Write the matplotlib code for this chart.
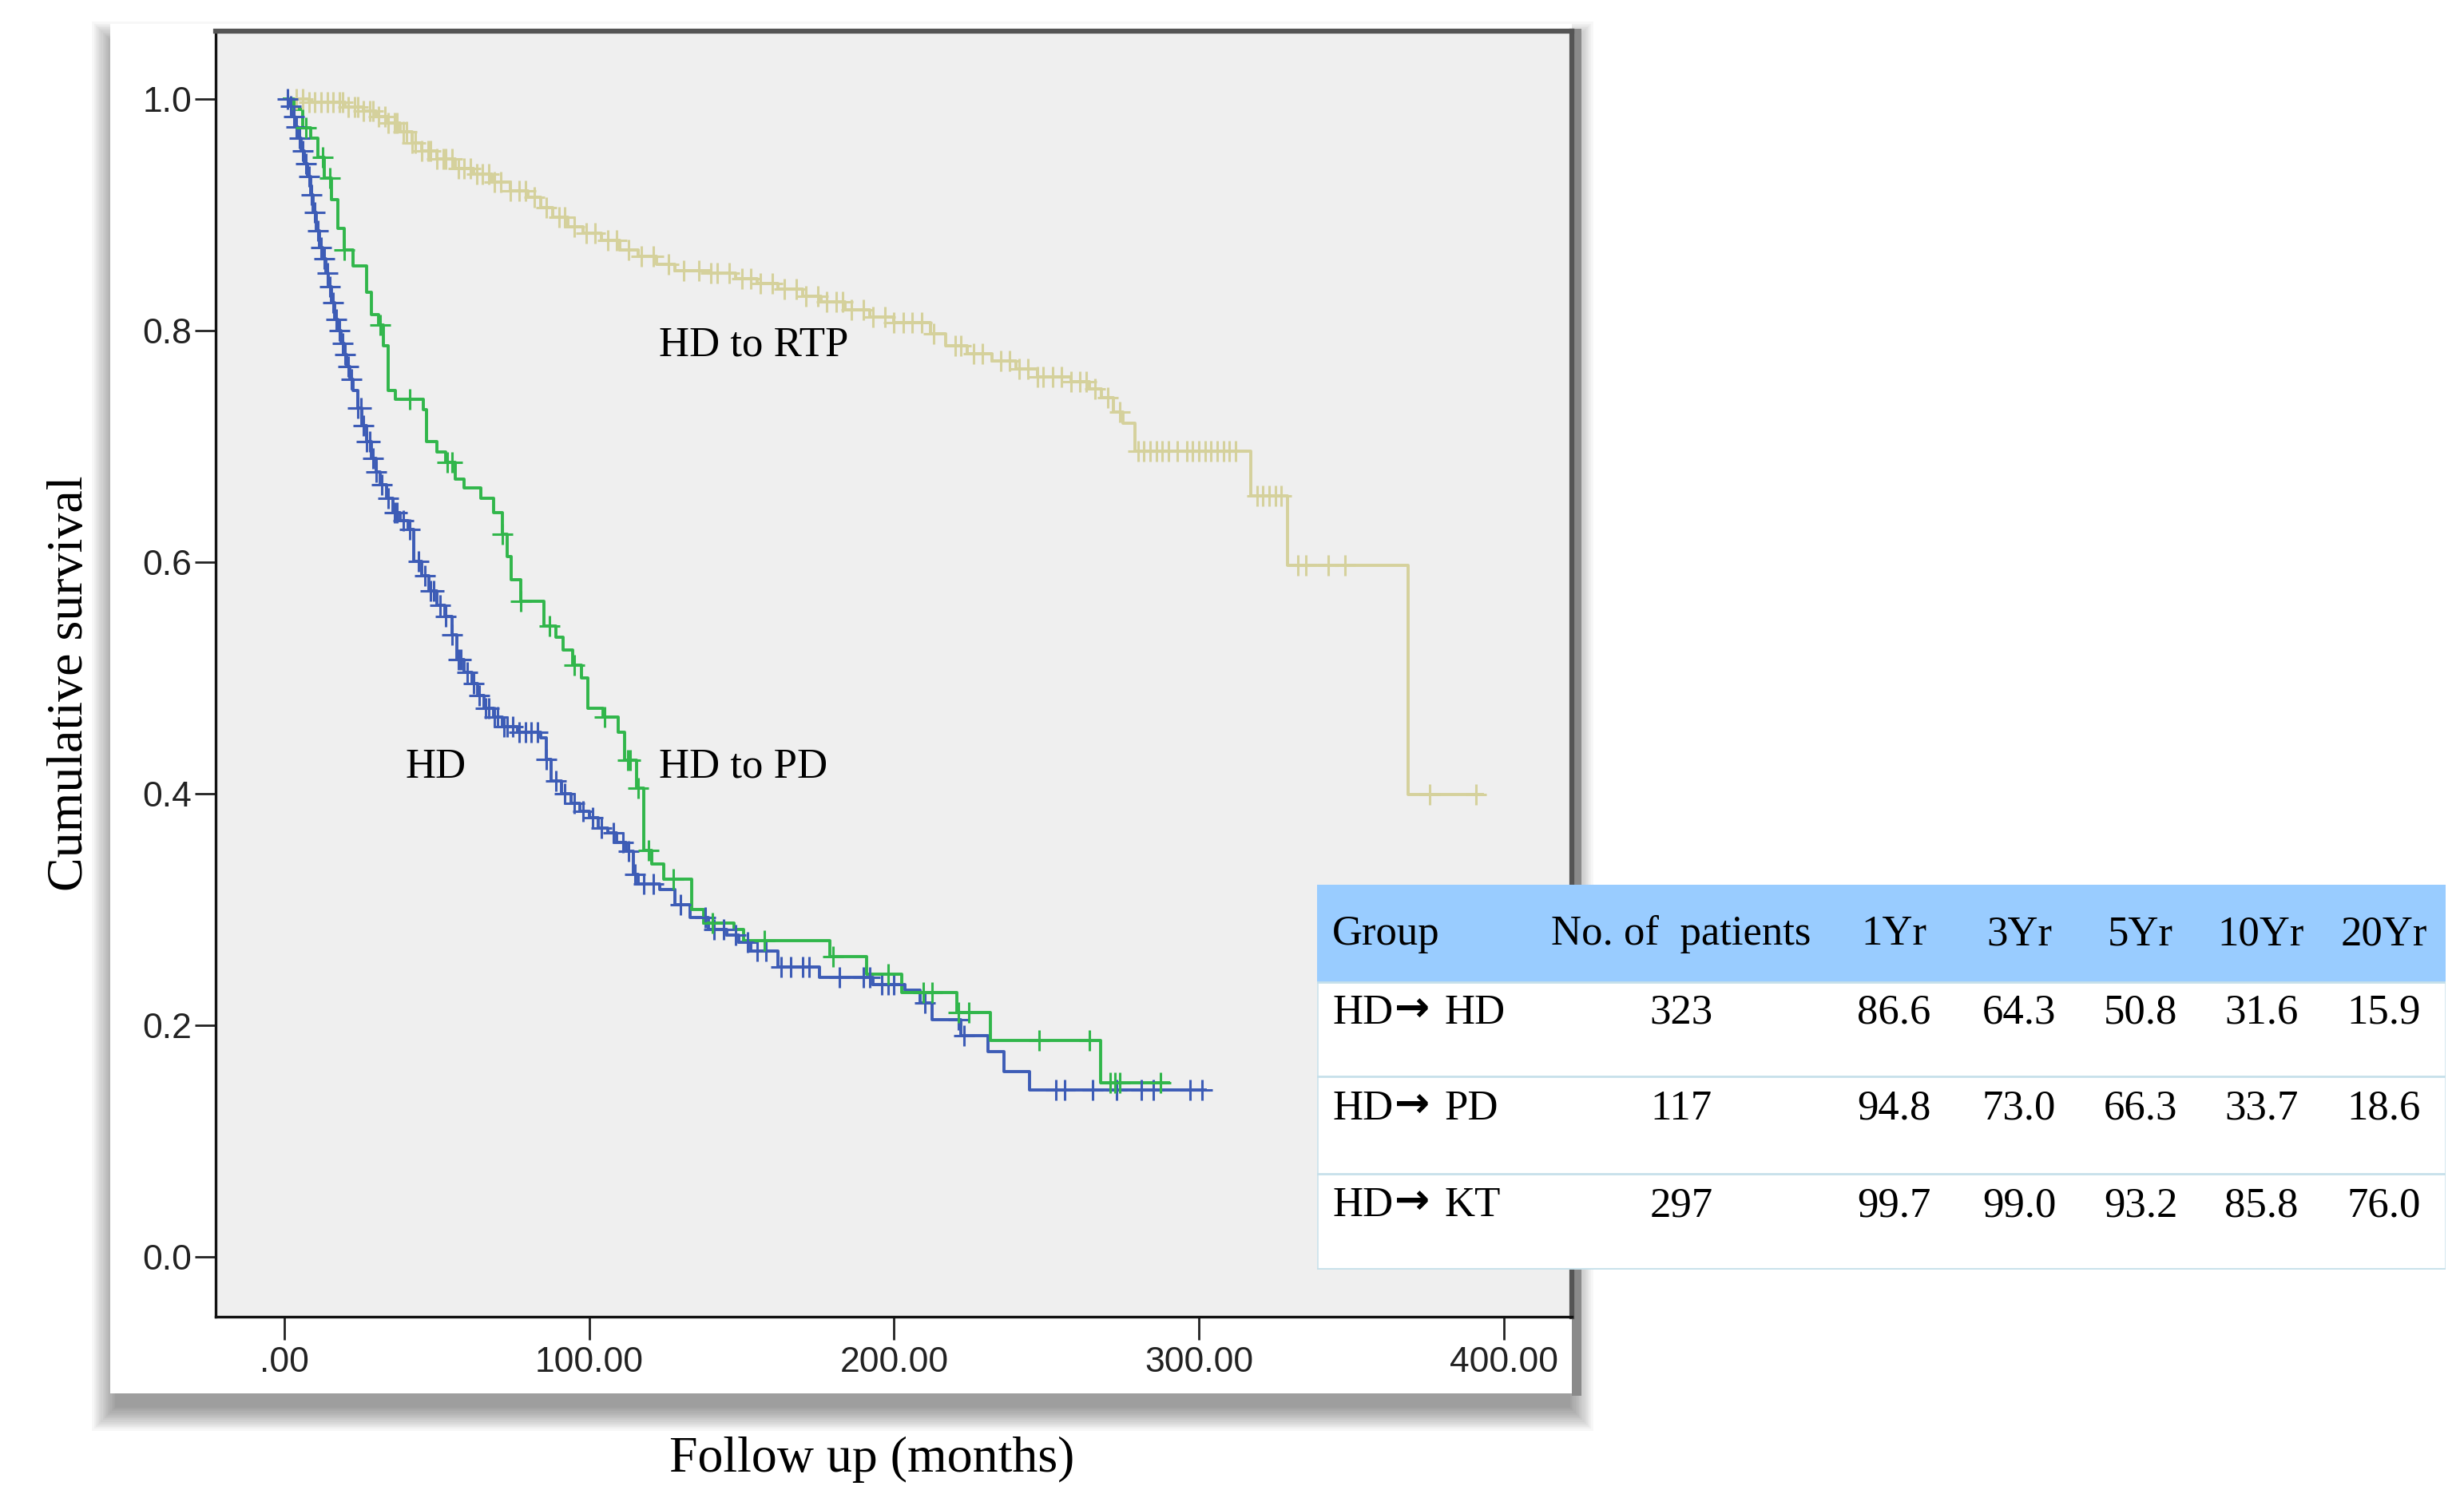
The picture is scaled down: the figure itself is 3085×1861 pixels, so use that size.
import numpy as np
import matplotlib.pyplot as plt
from matplotlib.patches import Rectangle

# ---- values ----
# Kaplan-Meier steps: time (months) where each step starts, survival after the step
hd_time = [0, 1.5, 2.5, 3.5, 4.5, 5.5, 6.5, 7.5, 8.5, 9.5, 10.5, 11.5, 12.5, 13.5,
           14.5, 15.5, 16.5, 17.5, 18.5, 19.5, 20.5, 21.5, 22.5, 24, 25.5, 27, 28.5,
           30, 31.5, 33.5, 35.5, 38, 40.5, 42.5, 45, 47.5, 50, 52.5, 55, 56.5, 59,
           61.5, 63.5, 65.5, 68.5, 71.5, 76.5, 84, 86, 87.5, 91, 94, 97, 100, 103,
           106, 109, 112, 114.5, 116, 123, 128, 133, 139, 145, 149, 153, 162, 175.5,
           193, 203.5, 208.5, 212.5, 222, 230.7, 236, 244.5]
hd_surv = [1.0, 0.994, 0.985, 0.976, 0.966, 0.955, 0.944, 0.933, 0.917, 0.902, 0.886,
           0.872, 0.862, 0.850, 0.838, 0.824, 0.810, 0.800, 0.789, 0.779, 0.769, 0.758,
           0.748, 0.733, 0.718, 0.704, 0.690, 0.678, 0.667, 0.655, 0.643, 0.636, 0.628,
           0.601, 0.588, 0.575, 0.563, 0.553, 0.537, 0.516, 0.505, 0.495, 0.485, 0.474,
           0.466, 0.458, 0.453, 0.448, 0.430, 0.411, 0.400, 0.392, 0.385, 0.379, 0.370,
           0.366, 0.358, 0.350, 0.330, 0.322, 0.317, 0.304, 0.293, 0.283, 0.278, 0.272,
           0.264, 0.250, 0.2416, 0.235, 0.230, 0.219, 0.205, 0.191, 0.177, 0.160, 0.144]
hd_end = 302
hd_censor = [1, 2, 3, 4, 5, 6, 7, 8, 9, 10, 11, 12, 13, 14, 15, 16, 17, 18, 19, 20, 21,
             22, 24, 25, 26, 27, 28, 29, 30, 32, 34, 36, 37, 39, 41, 44, 46, 48, 49, 51,
             53, 55, 57, 58, 60, 62, 64, 66, 67, 69, 70, 72, 73, 75, 77, 79, 81, 83, 86,
             89, 92, 95, 98, 101, 104, 108, 111, 113, 115, 118, 121, 130, 138, 141, 144,
             148, 152, 155, 158, 163, 166, 170, 172, 182, 190, 192, 196, 198, 200, 210,
             221, 223, 253, 256, 265, 273, 281, 285, 297, 301]

pd_time = [0, 3, 6, 8.5, 11, 13, 15.5, 17.5, 19.5, 22.5, 27, 28.5, 31, 32.5, 34, 36.5,
           45.5, 46.5, 50, 53, 56, 59, 64.5, 68.5, 71.5, 73, 74.5, 77.5, 85, 89, 91.5,
           94.5, 97.5, 99.5, 104.5, 109.5, 111.5, 115.5, 118, 120.5, 124.5, 133.5,
           137.5, 147.5, 150.5, 179, 191, 202.5, 220.5, 231.6, 267.8]
pd_surv = [1.0, 0.991, 0.975, 0.966, 0.950, 0.932, 0.913, 0.888, 0.870, 0.856, 0.833,
           0.814, 0.805, 0.787, 0.748, 0.741, 0.732, 0.704, 0.695, 0.686, 0.672, 0.664,
           0.655, 0.643, 0.624, 0.605, 0.585, 0.566, 0.545, 0.535, 0.524, 0.511, 0.500,
           0.474, 0.466, 0.453, 0.429, 0.405, 0.351, 0.339, 0.326, 0.300, 0.288, 0.283,
           0.273, 0.259, 0.244, 0.228, 0.211, 0.187, 0.150]
pd_end = 290
pd_censor = [7, 12.5, 15, 19.5, 31.5, 41, 53.5, 55, 71.5, 77.5, 87, 95, 105, 112.5,
             113.5, 116, 119.5, 127.5, 140.5, 157.5, 180, 198, 209.5, 212.5, 221, 224.5,
             247.5, 264, 271, 272.5, 274, 287.5]

rtp_time = [0, 8, 20, 26, 30, 34, 38, 42, 45, 50, 56, 62, 68, 74, 80, 84, 88, 93, 98,
            104, 110, 116, 122, 128, 140, 148, 155, 162, 170, 176, 184, 192, 200, 212,
            217, 224, 232, 240, 247, 258, 264, 268, 272, 275, 279, 317, 329, 368.6]
rtp_surv = [1.0, 0.997, 0.993, 0.990, 0.985, 0.979, 0.972, 0.962, 0.955, 0.948, 0.940,
            0.935, 0.928, 0.921, 0.915, 0.906, 0.898, 0.890, 0.884, 0.878, 0.870, 0.864,
            0.857, 0.852, 0.850, 0.845, 0.841, 0.836, 0.830, 0.825, 0.818, 0.812, 0.807,
            0.797, 0.787, 0.780, 0.774, 0.767, 0.760, 0.756, 0.750, 0.742, 0.730, 0.720,
            0.696, 0.657, 0.597, 0.399]
rtp_end = 393
rtp_censor = [4, 6, 8, 10, 12, 14, 16, 18, 19, 21, 23, 24, 26, 28, 29, 31, 33, 34, 36,
              37, 39, 40, 42, 43, 45, 47, 48, 50, 52, 53, 55, 57, 59, 61, 63, 65, 67, 69,
              71, 74, 77, 79, 82, 86, 90, 92, 95, 99, 102, 106, 109, 113, 117, 121, 126,
              131, 136, 140, 142, 146, 150, 153, 156, 160, 164, 168, 171, 175, 178, 181,
              183, 186, 190, 193, 197, 200, 203, 206, 209, 213, 220, 222, 226, 229, 235,
              238, 241, 244, 247, 249, 252, 255, 258, 261, 263, 266, 270, 274, 280, 282,
              284, 286, 288, 290, 293, 296, 298, 300, 302, 304, 306, 308, 310, 312, 319,
              321, 323, 325, 327, 332.5, 335, 342.5, 348, 375.7, 391]

curve_labels = ['HD', 'HD to PD', 'HD to RTP']
label_x = [39.7, 122.8, 122.8]
label_y = [0.414, 0.414, 0.778]

x_ticks = [0, 100, 200, 300, 400]
x_tick_labels = ['.00', '100.00', '200.00', '300.00', '400.00']
y_ticks = [0.0, 0.2, 0.4, 0.6, 0.8, 1.0]
y_tick_labels = ['0.0', '0.2', '0.4', '0.6', '0.8', '1.0']

table_header = ['Group', 'No. of  patients', '1Yr', '3Yr', '5Yr', '10Yr', '20Yr']
table_groups = [('HD', 'HD'), ('HD', 'PD'), ('HD', 'KT')]
table_patients = [323, 117, 297]
table_rates = [[86.6, 64.3, 50.8, 31.6, 15.9],
               [94.8, 73.0, 66.3, 33.7, 18.6],
               [99.7, 99.0, 93.2, 85.8, 76.0]]

# ---- layout ----
W, H = 3085, 1861
SERIF = ['Liberation Serif', 'DejaVu Serif']
SANS = ['Liberation Sans', 'DejaVu Sans']
BLUE = '#3d5cb6'
GREEN = '#31b64b'
BEIGE = '#d5d19c'


def frac_rect(x0, y0, x1, y1, **kw):
    """Rectangle given in image pixels (top-left origin), placed in figure coords."""
    return Rectangle((x0 / W, 1 - y1 / H), (x1 - x0) / W, (y1 - y0) / H,
                     transform=fig.transFigure, **kw)


def km_plot(ax, times, surv, end, censor, color):
    x = np.append(times, end)
    y = np.append(surv, surv[-1])
    ax.step(x, y, where='post', color=color, lw=2.8, zorder=3)
    idx = np.searchsorted(times, censor, side='right') - 1
    ax.plot(censor, np.asarray(surv)[idx], ls='none', marker='+', ms=19, mew=2.2,
            color=color, zorder=4)


fig = plt.figure(figsize=(W / 100, H / 100), dpi=100)
fig.patch.set_facecolor('white')

# card with soft drop shadow, mostly below the card
for k in range(14):
    e = k * 2.2
    fig.patches.append(frac_rect(138 - e + 6, 30 - e + 26, 1968 + e - 2, 1745 + e + 18,
                                 facecolor='black', alpha=0.032, edgecolor='none', zorder=-3))
fig.patches.append(frac_rect(138, 30, 1968, 1745, facecolor='white', edgecolor='none', zorder=-2))
# darker strip along the right edge of the plot frame
fig.patches.append(frac_rect(1968, 36, 1980, 1748, facecolor='#8a8a8a', edgecolor='none', zorder=-1))

ax = fig.add_axes([269.5 / W, 1 - 1648.8 / H, (1967.5 - 269.5) / W, (1648.8 - 39.35) / H])
ax.set_facecolor('#efefef')

km_plot(ax, rtp_time, rtp_surv, rtp_end, rtp_censor, BEIGE)
km_plot(ax, hd_time, hd_surv, hd_end, hd_censor, BLUE)
km_plot(ax, pd_time, pd_surv, pd_end, pd_censor, GREEN)

for name, lx, ly in zip(curve_labels, label_x, label_y):
    ax.text(lx, ly, name, family=SERIF, fontsize=38, ha='left', va='baseline', zorder=5)

ax.set_xlim(-22.7, 422.2)
ax.set_ylim(-0.0516, 1.0584)
ax.set_xticks(x_ticks)
ax.set_xticklabels(x_tick_labels, family=SANS, fontsize=32, color='#222222')
ax.set_yticks(y_ticks)
ax.set_yticklabels(y_tick_labels, family=SANS, fontsize=32, color='#222222')
ax.tick_params(axis='x', length=21, width=2, pad=6, color='#222222')
ax.tick_params(axis='y', length=19, width=2, pad=2, color='#222222')
for side in ['left', 'bottom']:
    ax.spines[side].set_linewidth(2.4)
    ax.spines[side].set_color('#111111')
for side in ['top', 'right']:
    ax.spines[side].set_linewidth(4.5)
    ax.spines[side].set_color('#555555')

fig.text(1092 / W, 1 - 1843 / H, 'Follow up (months)', family=SERIF, fontsize=46,
         ha='center', va='baseline')
fig.text(88 / W, 1 - 856 / H, 'Cumulative survival', family=SERIF, fontsize=46,
         ha='center', va='center', rotation=90)

# ---- summary table drawn over the plot ----
t_left, t_top, t_right, t_bottom = 1649, 1108, 3062, 1590
tw, th = t_right - t_left, t_bottom - t_top
tax = fig.add_axes([t_left / W, 1 - t_bottom / H, tw / W, th / H], zorder=10)
tax.set_xlim(0, tw)
tax.set_ylim(th, 0)
tax.axis('off')
tax.add_patch(Rectangle((0, 0), tw, th, facecolor='white', edgecolor='#cfe4ec', lw=2))
tax.add_patch(Rectangle((0, 0), tw, 122, facecolor='#99ccff', edgecolor='none'))
for yline in [122, 240, 362, th - 1]:
    tax.plot([0, tw], [yline, yline], color='#c6e0ea', lw=2)

col_x = [19, 456, 722, 879, 1031, 1182, 1336]
row_base = [75, 174, 294, 415]
for j, head in enumerate(table_header):
    tax.text(col_x[j], row_base[0], head, family=SERIF, fontsize=38,
             ha='left' if j == 0 else 'center', va='baseline')
for i, (src, dst) in enumerate(table_groups):
    yb = row_base[i + 1]
    tax.text(col_x[0], yb, src, family=SERIF, fontsize=38, ha='left', va='baseline')
    tax.text(col_x[0] + 78, yb - 18, '\u2192', family=['DejaVu Sans'], fontsize=38,
             ha='left', va='center', fontweight='bold')
    tax.text(col_x[0] + 140, yb, dst, family=SERIF, fontsize=38, ha='left', va='baseline')
    tax.text(col_x[1], yb, str(table_patients[i]), family=SERIF, fontsize=38,
             ha='center', va='baseline')
    for j, rate in enumerate(table_rates[i]):
        tax.text(col_x[j + 2], yb, f'{rate:.1f}', family=SERIF, fontsize=38,
                 ha='center', va='baseline')

fig.savefig('out.png', dpi=100, facecolor='white')
